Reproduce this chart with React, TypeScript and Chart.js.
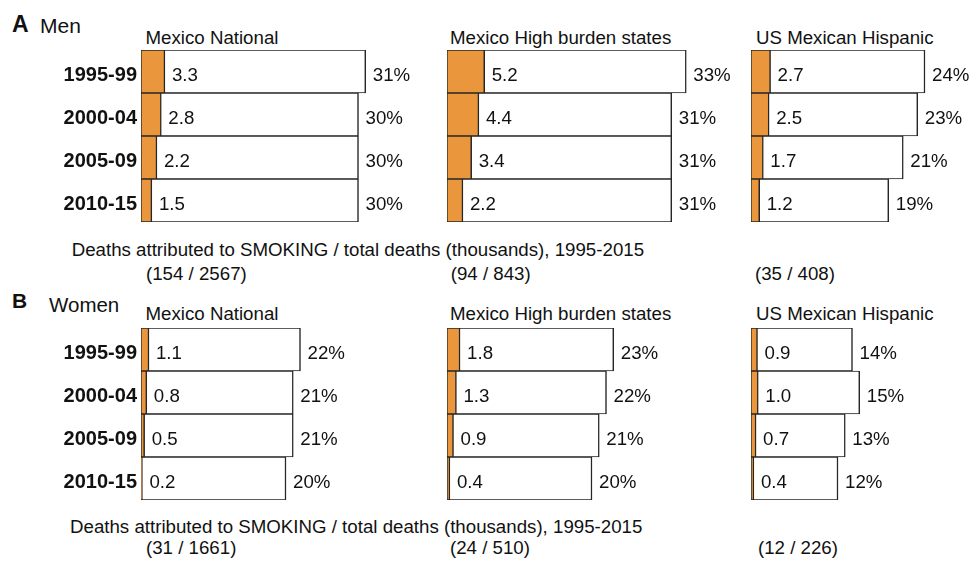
import React, { useEffect, useRef } from "react";
import { Chart, registerables } from "chart.js";

Chart.register(...registerables);

// ---------- data ----------
const periods = ["1995-99", "2000-04", "2005-09", "2010-15"];
const groups = ["Mexico National", "Mexico High burden states", "US Mexican Hispanic"];

const menSmokingNational = [3.3, 2.8, 2.2, 1.5];
const menSmokingHigh = [5.2, 4.4, 3.4, 2.2];
const menSmokingUS = [2.7, 2.5, 1.7, 1.2];
const menTotalNational = [31, 30, 30, 30];
const menTotalHigh = [33, 31, 31, 31];
const menTotalUS = [24, 23, 21, 19];

const womenSmokingNational = [1.1, 0.8, 0.5, 0.2];
const womenSmokingHigh = [1.8, 1.3, 0.9, 0.4];
const womenSmokingUS = [0.9, 1.0, 0.7, 0.4];
const womenTotalNational = [22, 21, 21, 20];
const womenTotalHigh = [23, 22, 21, 20];
const womenTotalUS = [14, 15, 13, 12];

const menDeaths = ["(154 / 2567)", "(94 / 843)", "(35 / 408)"];
const womenDeaths = ["(31 / 1661)", "(24 / 510)", "(12 / 226)"];

const footnote = "Deaths attributed to SMOKING / total deaths (thousands), 1995-2015";

// ---------- style / layout ----------
const FONT = '"Liberation Sans", Arial, Helvetica, sans-serif';
const ORANGE = "#EA963C";
const EDGE = "#262626";
const TEXT = "#111";
const PX_PER_UNIT = 7.25;
const AXIS_W = 141;
const COLS = [
  { left: 0, areaW: 290, ticks: true },
  { left: 447, areaW: 290, ticks: false },
  { left: 751, areaW: 221, ticks: false },
];

const labelPlugin = {
  id: "barLabels",
  afterDatasetsDraw(chart: any) {
    const ctx = chart.ctx;
    const sMeta = chart.getDatasetMeta(0);
    const tMeta = chart.getDatasetMeta(1);
    const sData = chart.data.datasets[0].data;
    const tData = chart.data.datasets[1].data;
    ctx.save();
    ctx.font = `18.7px ${FONT}`;
    ctx.fillStyle = TEXT;
    ctx.textBaseline = "middle";
    ctx.textAlign = "left";
    sMeta.data.forEach((bar: any, i: number) => {
      ctx.fillText(Number(sData[i]).toFixed(1), bar.x + 7, bar.y + 4);
      const t = tMeta.data[i];
      ctx.fillText(`${tData[i]}%`, t.x + 7, t.y + 4);
    });
    ctx.restore();
  },
};

function BarPanel({ smoking, total, col, top }: any) {
  const ref = useRef<HTMLCanvasElement>(null);
  const width = (col.ticks ? AXIS_W : 0) + col.areaW;
  const height = 172;
  useEffect(() => {
    const barCommon = {
      borderColor: EDGE,
      borderWidth: { left: 1, right: 1.5, top: 1, bottom: 1 },
      borderSkipped: false,
      grouped: false,
      barPercentage: 1,
      categoryPercentage: 1,
    };
    const yScale: any = {
      display: col.ticks,
      grid: { display: false, drawTicks: false },
      border: { display: false },
      ticks: {
        font: { family: FONT, size: 20, weight: "bold" },
        color: TEXT,
        padding: 4,
        labelOffset: 4,
      },
    };
    if (col.ticks) {
      yScale.afterFit = (s: any) => {
        s.width = AXIS_W;
        s.paddingTop = 0;
        s.paddingBottom = 0;
      };
    }
    const chart = new Chart(ref.current as HTMLCanvasElement, {
      type: "bar",
      data: {
        labels: periods,
        datasets: [
          { ...barCommon, data: smoking, backgroundColor: ORANGE },
          { ...barCommon, data: total, backgroundColor: "#ffffff" },
        ],
      },
      options: {
        indexAxis: "y",
        animation: false,
        responsive: false,
        maintainAspectRatio: false,
        layout: { padding: 0 },
        plugins: {
          legend: { display: false },
          tooltip: { enabled: false },
          title: { display: false },
        },
        scales: {
          x: { display: false, min: 0, max: col.areaW / PX_PER_UNIT },
          y: yScale,
        },
      } as any,
      plugins: [labelPlugin],
    });
    return () => chart.destroy();
  }, []);
  return (
    <canvas
      ref={ref}
      width={width}
      height={height}
      style={{ position: "absolute", left: col.left, top, width, height }}
    />
  );
}

function Txt({ x, base, size, bold, children }: any) {
  return (
    <span
      style={{
        position: "absolute",
        left: x,
        top: base - 0.8465 * size,
        fontSize: size,
        lineHeight: `${size}px`,
        fontFamily: FONT,
        fontWeight: bold ? "bold" : "normal",
        color: TEXT,
        whiteSpace: "nowrap",
      }}
    >
      {children}
    </span>
  );
}

const titleX = [145.5, 450, 756];

export default function App() {
  const men = [
    [menSmokingNational, menTotalNational],
    [menSmokingHigh, menTotalHigh],
    [menSmokingUS, menTotalUS],
  ];
  const women = [
    [womenSmokingNational, womenTotalNational],
    [womenSmokingHigh, womenTotalHigh],
    [womenSmokingUS, womenTotalUS],
  ];
  const menDeathX = [146, 450.7, 755];
  const womenDeathX = [146, 450, 758];
  return (
    <div
      style={{
        position: "absolute",
        left: 0,
        top: 0,
        width: 972,
        height: 566,
        background: "#fff",
        overflow: "hidden",
      }}
    >
      <Txt x={12} base={32} size={23} bold>A</Txt>
      <Txt x={40} base={33} size={21}>Men</Txt>
      <Txt x={12} base={308} size={21} bold>B</Txt>
      <Txt x={49} base={312} size={20.5}>Women</Txt>

      {groups.map((g, i) => (
        <Txt key={"mt" + i} x={titleX[i]} base={44.5} size={18.7}>{g}</Txt>
      ))}
      {groups.map((g, i) => (
        <Txt key={"wt" + i} x={titleX[i]} base={321} size={18.7}>{g}</Txt>
      ))}

      {men.map((d, i) => (
        <BarPanel key={"m" + i} smoking={d[0]} total={d[1]} col={COLS[i]} top={50} />
      ))}
      {women.map((d, i) => (
        <BarPanel key={"w" + i} smoking={d[0]} total={d[1]} col={COLS[i]} top={328} />
      ))}

      <Txt x={71.7} base={256.7} size={18.7}>{footnote}</Txt>
      {menDeaths.map((t, i) => (
        <Txt key={"md" + i} x={menDeathX[i]} base={281} size={18.7}>{t}</Txt>
      ))}
      <Txt x={70} base={533.7} size={18.7}>{footnote}</Txt>
      {womenDeaths.map((t, i) => (
        <Txt key={"wd" + i} x={womenDeathX[i]} base={555.3} size={18.7}>{t}</Txt>
      ))}
    </div>
  );
}
